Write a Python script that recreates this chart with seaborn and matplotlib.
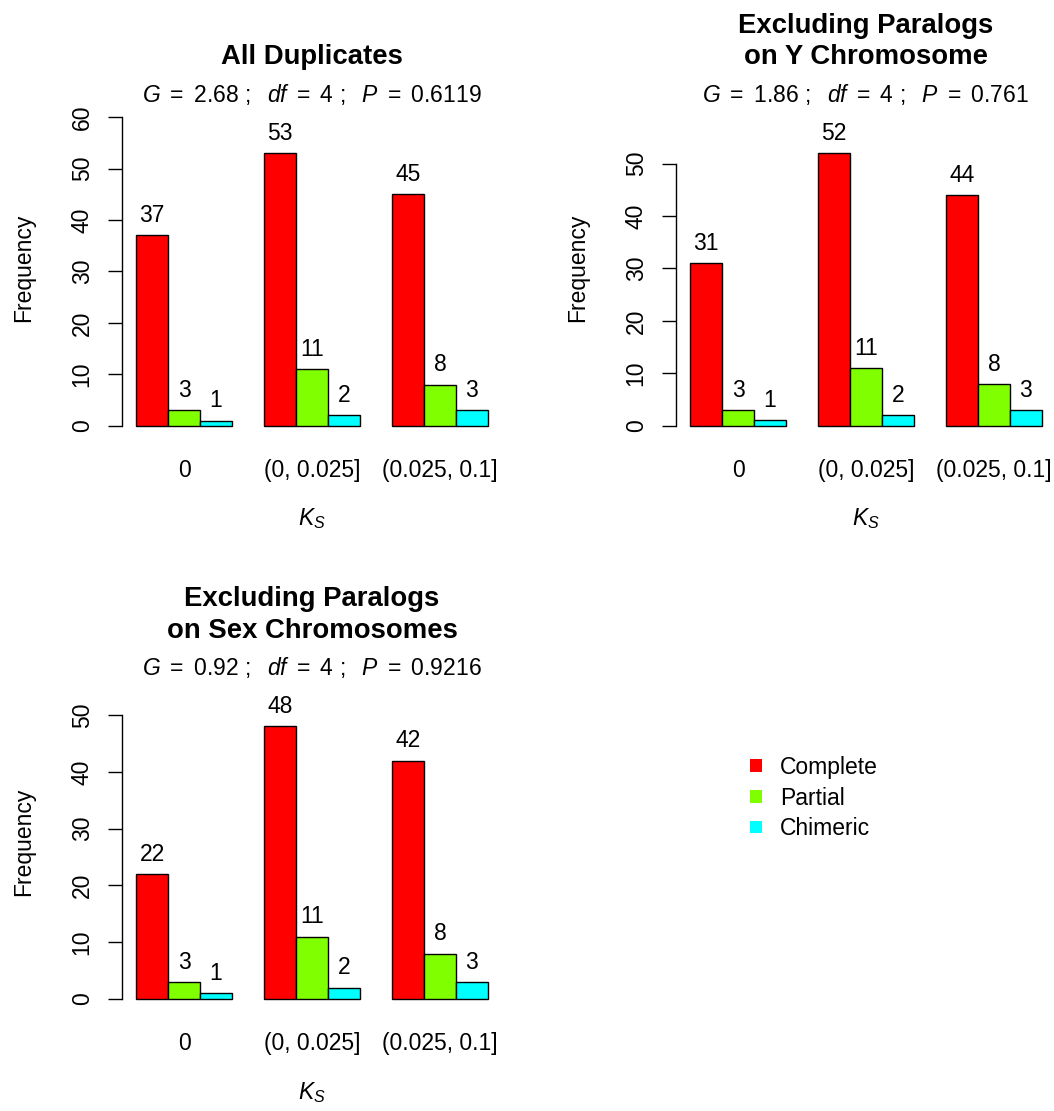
import numpy as np
import pandas as pd
import matplotlib
matplotlib.use('Agg')
import matplotlib.pyplot as plt
import seaborn as sns
from matplotlib.patches import Patch

#data
categories = ['0', '(0, 0.025]', '(0.025, 0.1]']
types = ['Complete', 'Partial', 'Chimeric']
colors = {'Complete': '#FF0000', 'Partial': '#7FFF00', 'Chimeric': '#00FFFF'}

all_complete = [37, 53, 45]
all_partial = [3, 11, 8]
all_chimeric = [1, 2, 3]

noy_complete = [31, 52, 44]
noy_partial = [3, 11, 8]
noy_chimeric = [1, 2, 3]

nosex_complete = [22, 48, 42]
nosex_partial = [3, 11, 8]
nosex_chimeric = [1, 2, 3]

titles = [['All Duplicates'],
          ['Excluding Paralogs', 'on Y Chromosome'],
          ['Excluding Paralogs', 'on Sex Chromosomes']]
g_stats = ['2.68', '1.86', '0.92']
df_stats = ['4', '4', '4']
p_stats = ['0.6119', '0.761', '0.9216']
#highest labelled tick on each y axis
tick_tops = [60, 50, 50]

panels = [(all_complete, all_partial, all_chimeric),
          (noy_complete, noy_partial, noy_chimeric),
          (nosex_complete, nosex_partial, nosex_chimeric)]

sns.set_theme(style='white')
plt.rcParams['font.family'] = ['Liberation Sans', 'DejaVu Sans']
plt.rcParams['mathtext.fontset'] = 'custom'
plt.rcParams['mathtext.rm'] = 'Liberation Sans'
plt.rcParams['mathtext.it'] = 'Liberation Sans:italic'
plt.rcParams['text.color'] = 'black'
plt.rcParams['axes.labelcolor'] = 'black'

W, H = 1054, 1111
fig = plt.figure(figsize=(W / 100, H / 100), dpi=100)
fs = 16.5

#pixel positions of each plot region: left edge, zero line
layout = [(122, 425.7), (676, 425.7), (122, 999.0)]
region_w, region_h = 380, 340

for i, (comp, part, chim) in enumerate(panels):
    left, zero = layout[i]
    bottom = zero + region_h * 0.04 / 1.08
    ax = fig.add_axes([left / W, 1 - bottom / H, region_w / W, region_h / H])

    df = pd.DataFrame({
        'ks': categories * 3,
        'n': comp + part + chim,
        'type': [t for t in types for _ in categories],
    })
    sns.barplot(data=df, x='ks', y='n', hue='type', order=categories, hue_order=types,
                palette=colors, saturation=1, width=0.75, edgecolor='black', linewidth=1.0,
                errorbar=None, legend=False, ax=ax)
    for c in ax.containers:
        ax.bar_label(c, padding=5.9, fontsize=fs, color='black')

    top = max(comp + part + chim) * 1.155
    ax.set_ylim(-0.04 * top, 1.04 * top)
    ax.set_xlim(-0.485, 2.485)
    ticks = np.arange(0, tick_tops[i] + 1, 10)
    ax.set_yticks(ticks)
    ax.set_yticklabels([str(int(t)) for t in ticks], rotation=90, va='center', ha='center')
    ax.tick_params(axis='y', length=10, width=1.0, pad=18.7, labelsize=fs, left=True,
                   color='black', labelcolor='black')
    ax.tick_params(axis='x', length=0, pad=14.9, labelsize=fs, labelcolor='black')
    for s in ['top', 'right', 'bottom']:
        ax.spines[s].set_visible(False)
    ax.spines['left'].set_bounds(0, ticks[-1])
    ax.spines['left'].set_linewidth(1.0)
    ax.spines['left'].set_color('black')

    ax.set_ylabel('Frequency', fontsize=fs, va='center')
    ax.yaxis.set_label_coords(-0.258, 0.5)
    ax.set_xlabel('$K_S$', fontsize=fs, va='center')
    ax.xaxis.set_label_coords(0.5, -0.237)

    #title lines and test statistics above each plot
    cx = (left + region_w / 2) / W
    lines = titles[i]
    for j, line in enumerate(lines):
        base = zero - 361.5 - 31 * (len(lines) - 1 - j)
        fig.text(cx, 1 - base / H, line, ha='center', va='baseline',
                 fontsize=19.8, fontweight='bold')
    sub = r'$G\ =\ %s\ ;\ \ df\ =\ %s\ ;\ \ P\ =\ %s$' % (g_stats[i], df_stats[i], p_stats[i])
    fig.text(cx, 1 - (zero - 324) / H, sub, ha='center', va='baseline', fontsize=fs)

handles = [Patch(facecolor=colors[t], edgecolor='none') for t in types]
fig.legend(handles, types, loc='upper left', bbox_to_anchor=(750 / W, 1 - 756 / H),
           frameon=False, borderpad=0, borderaxespad=0, fontsize=fs,
           handlelength=0.52, handleheight=0.48, handletextpad=0.79, labelspacing=0.33)

plt.savefig('out.png', dpi=100)
